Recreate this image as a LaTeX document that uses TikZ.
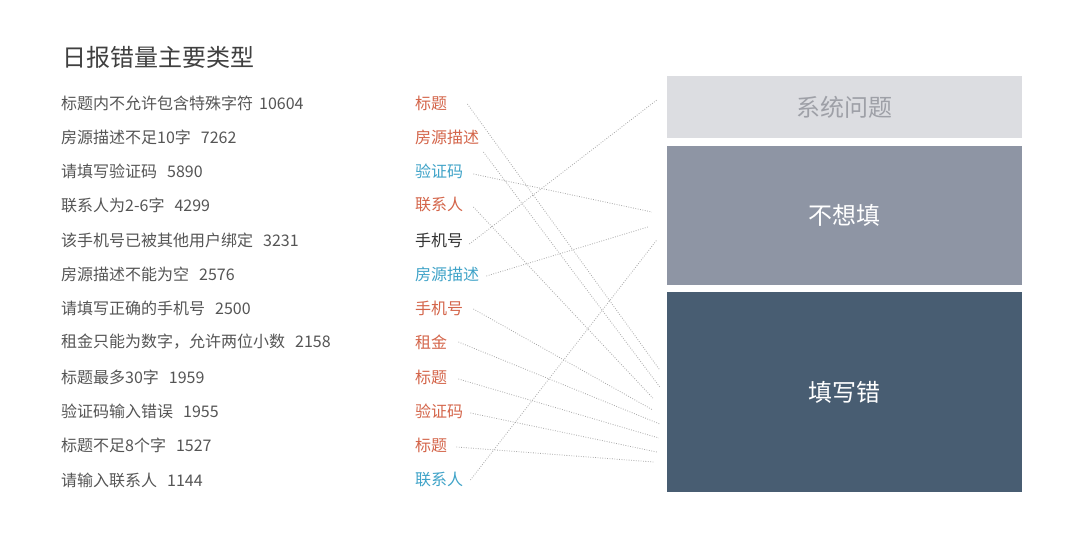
\documentclass[tikz,border=0pt]{standalone}
\usepackage{fontspec}
\newfontfamily\cjk{Noto Sans CJK SC}
\usetikzlibrary{positioning}

\definecolor{headgray}{HTML}{404040}
\definecolor{itemgray}{HTML}{555555}
\definecolor{errred}{HTML}{D4654A}
\definecolor{nofillblue}{HTML}{3FA3C8}
\definecolor{sysblack}{HTML}{333333}
\definecolor{linegray}{HTML}{A8A8A8}
\definecolor{sysfill}{HTML}{DCDDE1}
\definecolor{systext}{HTML}{9EA0A7}
\definecolor{nofillbg}{HTML}{8E95A4}
\definecolor{wrongbg}{HTML}{485D72}

\newcommand{\gapone}{\hspace{6pt}}
\newcommand{\gaptwo}{\hspace{10pt}}

\begin{document}
\begin{tikzpicture}[x=1pt, y=-1pt]

    \tikzstyle{head}=[anchor=west, inner sep=0pt, text=headgray, font=\cjk\fontsize{24}{28}\selectfont];
    \tikzstyle{item}=[anchor=west, inner sep=0pt, text=itemgray, font=\cjk\fontsize{16}{19}\selectfont];
    \tikzstyle{field}=[anchor=west, inner sep=0pt, font=\cjk\fontsize{16}{19}\selectfont];
    \tikzstyle{cause}=[inner sep=0pt, minimum width=355pt, text=white, font=\cjk\fontsize{24}{28}\selectfont];
    \tikzstyle{link}=[draw=linegray, line width=0.8pt, dash pattern=on 0.8pt off 1.6pt];

    \fill [white] (0,0) rectangle (1080,548);

    \node [head](head) at (62,57){日报错量主要类型};

    % error messages
    \node [item](e1) at (61,103){标题内不允许包含特殊字符\gapone 10604};
    \node [item](e2) at (61,137){房源描述不足10字\gaptwo 7262};
    \node [item](e3) at (61,171){请填写验证码\gaptwo 5890};
    \node [item](e4) at (61,205){联系人为2-6字\gaptwo 4299};
    \node [item](e5) at (61,240){该手机号已被其他用户绑定\gaptwo 3231};
    \node [item](e6) at (61,274){房源描述不能为空\gaptwo 2576};
    \node [item](e7) at (61,308){请填写正确的手机号\gaptwo 2500};
    \node [item](e8) at (61,342){租金只能为数字，允许两位小数\gaptwo 2158};
    \node [item](e9) at (61,377){标题最多30字\gaptwo 1959};
    \node [item](e10) at (61,411){验证码输入错误\gaptwo 1955};
    \node [item](e11) at (61,445){标题不足8个字\gaptwo 1527};
    \node [item](e12) at (61,480){请输入联系人\gaptwo 1144};

    % fields
    \node [field, text=errred](f1) at (415,103){标题};
    \node [field, text=errred](f2) at (415,137){房源描述};
    \node [field, text=nofillblue](f3) at (415,171){验证码};
    \node [field, text=errred](f4) at (415,205){联系人};
    \node [field, text=sysblack](f5) at (415,240){手机号};
    \node [field, text=nofillblue](f6) at (415,274){房源描述};
    \node [field, text=errred](f7) at (415,308){手机号};
    \node [field, text=errred](f8) at (415,342){租金};
    \node [field, text=errred](f9) at (415,377){标题};
    \node [field, text=errred](f10) at (415,411){验证码};
    \node [field, text=errred](f11) at (415,445){标题};
    \node [field, text=nofillblue](f12) at (415,480){联系人};

    % causes
    \node [cause, fill=sysfill, text=systext, minimum height=62pt](sys) at (844.5,107){系统问题};
    \node [cause, fill=nofillbg, minimum height=139pt](nofill) at (844.5,215.5){不想填};
    \node [cause, fill=wrongbg, minimum height=200pt](wrong) at (844.5,392){填写错};

    \draw [link] ([shift={(20,1)}]f1.east) to ([shift={(-7,-22)}]wrong.west);
    \draw [link] ([shift={(4,15)}]f2.east) to ([shift={(-7,-5)}]wrong.west);
    \draw [link] ([shift={(10,3)}]f3.east) to ([shift={(-15,-3.5)}]nofill.west);
    \draw [link] ([shift={(10,2)}]f4.east) to ([shift={(-14,6)}]wrong.west);
    \draw [link] ([shift={(6,4)}]f5.east) to ([shift={(-10,-7)}]sys.west);
    \draw [link] ([shift={(7,2)}]f6.east) to ([shift={(-19,11.5)}]nofill.west);
    \draw [link] ([shift={(10,1)}]f7.east) to ([shift={(-14,18)}]wrong.west);
    \draw [link] ([shift={(11,0)}]f8.east) to ([shift={(-7,32)}]wrong.west);
    \draw [link] ([shift={(11,2)}]f9.east) to ([shift={(-8,46)}]wrong.west);
    \draw [link] ([shift={(7,2)}]f10.east) to ([shift={(-10,60)}]wrong.west);
    \draw [link] ([shift={(9,2)}]f11.east) to ([shift={(-13,70)}]wrong.west);
    \draw [link] ([shift={(7,0)}]f12.east) to ([shift={(-10,24.5)}]nofill.west);

\end{tikzpicture}
\end{document}
